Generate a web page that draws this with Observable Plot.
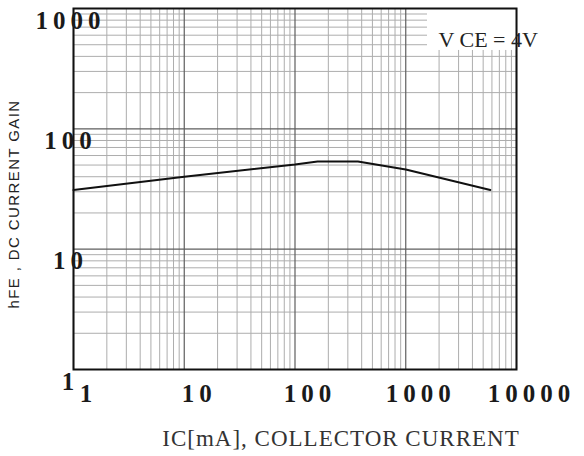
<!DOCTYPE html>
<html><head><meta charset="utf-8">
<script src="https://cdn.jsdelivr.net/npm/d3@7"></script>
<script src="https://cdn.jsdelivr.net/npm/@observablehq/plot@0.6"></script>
<style>
body{margin:0;background:#fff}
text[aria-label="tick-labels"]{letter-spacing:5px}
text[aria-label="y-title"]{letter-spacing:1.4px}
text[aria-label="x-title"]{letter-spacing:1px}
</style>
</head><body><div id="chart"></div>
<script>
// Data
const currentMA = [1, 10, 100, 160, 370, 1000, 5800];
const gainHFE   = [31, 40, 50.5, 53.5, 53.5, 46, 31];
const xTicks = [1, 10, 100, 1000, 10000];
const xTickLabels = ["1", "10", "100", "1000", "10000"];
const yTicks = [1, 10, 100, 1000];
const yTickLabels = ["1", "10", "100", "1000"];
const conditionLabel = ["V CE = 4V"];
const conditionAt = {x: 1976, y: 553};
const conditionBox = {x1: 1572, x2: 10000, y1: 448, y2: 1000};
const xTitle = "IC[mA], COLLECTOR CURRENT";
const yTitle = "hFE , DC CURRENT GAIN";

const minorOf = (lo, hi) => {
  const out = [];
  for (let d = lo; d < hi; d *= 10) for (let m = 2; m <= 9; m++) out.push(d * m);
  return out;
};
const xMinor = minorOf(1, 10000);
const yMinor = minorOf(1, 1000);
const curve = currentMA.map((x, i) => ({x, y: gainHFE[i]}));

const serif = "'Liberation Serif', 'Times New Roman', serif";
const tickFont = {fontFamily: serif, fontSize: 25, fontWeight: "bold", fill: "#1a1a1a", ariaLabel: () => "tick-labels"};

const chart = Plot.plot({
  width: 584, height: 456,
  marginLeft: 73, marginRight: 68, marginTop: 8, marginBottom: 87,
  x: {type: "log", domain: [1, 10000], axis: null},
  y: {type: "log", domain: [1, 1000], axis: null},
  marks: [
    Plot.ruleX(xMinor, {stroke: "#adadad", strokeWidth: 1}),
    Plot.ruleY(yMinor, {stroke: "#adadad", strokeWidth: 1}),
    Plot.ruleX(xTicks, {stroke: "#5e5e5e", strokeWidth: 1.2}),
    Plot.ruleY(yTicks, {stroke: "#5e5e5e", strokeWidth: 1.2}),
    Plot.rect([conditionBox], {x1: "x1", x2: "x2", y1: "y1", y2: "y2", fill: "white"}),
    Plot.line(curve, {x: "x", y: "y", stroke: "#111", strokeWidth: 2}),
    Plot.frame({stroke: "#111", strokeWidth: 2}),
    Plot.text(conditionLabel, {x: () => conditionAt.x, y: () => conditionAt.y, text: d => d, textAnchor: "start", lineAnchor: "middle",
      fontFamily: serif, fontSize: 22, fill: "#222"}),
    Plot.text(yTicks, {y: d => d, text: (d, i) => yTickLabels[i], frameAnchor: "left", textAnchor: "middle", lineAnchor: "middle",
      dx: -3, dy: 12, ...tickFont}),
    Plot.text(xTicks, {x: d => d, text: (d, i) => xTickLabels[i], frameAnchor: "bottom", textAnchor: "middle", lineAnchor: "middle",
      dx: 15, dy: 24, ...tickFont}),
    Plot.text([xTitle], {text: d => d, frameAnchor: "bottom", textAnchor: "middle", dx: 46, dy: 69, lineAnchor: "middle",
      fontFamily: serif, fontSize: 23, fill: "#333", ariaLabel: () => "x-title"}),
    Plot.text([yTitle], {text: d => d, frameAnchor: "left", textAnchor: "middle", rotate: -90, dx: -59, dy: 15, lineAnchor: "middle",
      fontFamily: "'Liberation Sans', Arial, sans-serif", fontSize: 15, fill: "#222", ariaLabel: () => "y-title"})
  ]
});
document.getElementById("chart").appendChild(chart);
</script>
</body></html>
